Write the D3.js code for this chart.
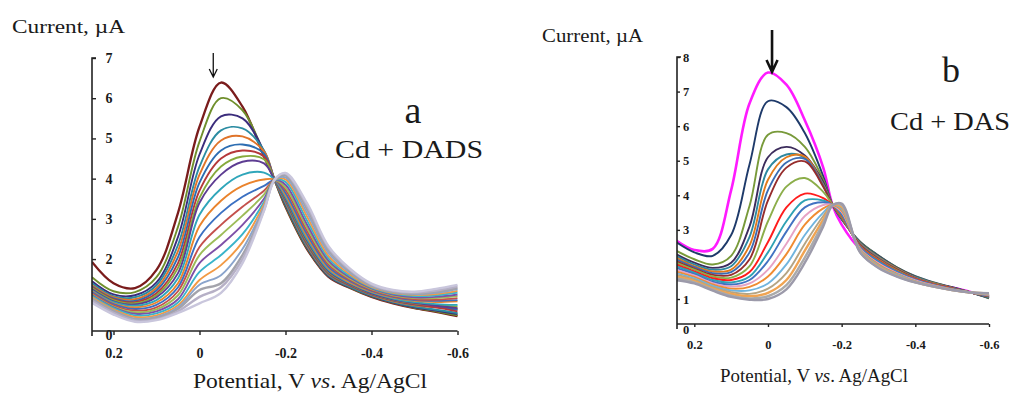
<!DOCTYPE html>
<html><head><meta charset="utf-8">
<script src="https://cdn.jsdelivr.net/npm/d3@7"></script>
<style>
html,body{margin:0;padding:0;background:#fff;}
svg{display:block;}
text{font-family:"Liberation Serif","Times New Roman",serif;fill:#1a1a1a;}
</style></head>
<body>
<svg id="chart" width="1016" height="394"></svg>
<script>
// ---------- DATA ----------
// Potential (V vs. Ag/AgCl) sampling grid shared by all curves
const potentials = [0.25, 0.2, 0.15, 0.1, 0.05, 0, -0.05, -0.1, -0.15, -0.175, -0.2, -0.25, -0.3, -0.35, -0.4, -0.45, -0.5, -0.55, -0.6];

// Panel a: Cd + DADS, current (µA), one row per scan, top peak first
const currentsDADS = [
  [1.93,1.40,1.28,1.73,3.15,5.29,6.39,5.79,4.55,3.95,3.30,2.25,1.56,1.28,1.06,0.90,0.78,0.69,0.58],
  [1.55,1.20,1.18,1.55,2.80,4.92,6.00,5.70,4.62,3.95,3.32,2.27,1.57,1.29,1.07,0.91,0.79,0.70,0.60],
  [1.45,1.12,1.10,1.42,2.55,4.60,5.55,5.50,4.68,3.96,3.35,2.29,1.58,1.30,1.08,0.92,0.80,0.72,0.63],
  [1.40,1.08,1.05,1.35,2.35,4.30,5.20,5.25,4.70,3.96,3.38,2.31,1.60,1.31,1.09,0.93,0.82,0.74,0.66],
  [1.35,1.05,1.00,1.28,2.20,4.10,4.95,5.05,4.68,3.97,3.42,2.34,1.62,1.33,1.11,0.95,0.85,0.80,0.76],
  [1.32,1.02,0.96,1.22,2.05,3.90,4.70,4.85,4.62,3.97,3.45,2.37,1.64,1.34,1.12,0.97,0.87,0.81,0.74],
  [1.30,1.00,0.93,1.15,1.90,3.70,4.50,4.70,4.55,3.97,3.48,2.40,1.66,1.35,1.13,0.98,0.88,0.80,0.70],
  [1.28,0.98,0.90,1.10,1.78,3.52,4.30,4.55,4.48,3.97,3.50,2.43,1.68,1.37,1.14,0.99,0.90,0.85,0.82],
  [1.25,0.95,0.87,1.05,1.65,3.40,4.10,4.42,4.38,3.97,3.52,2.46,1.70,1.38,1.15,1.00,0.91,0.84,0.78],
  [1.22,0.93,0.84,0.98,1.52,3.10,3.75,4.10,4.15,3.97,3.55,2.50,1.73,1.40,1.17,1.02,0.93,0.88,0.86],
  [1.20,0.90,0.80,0.92,1.40,2.82,3.45,3.82,3.98,3.97,3.60,2.56,1.77,1.42,1.19,1.04,0.96,0.93,0.95],
  [1.18,0.88,0.76,0.86,1.30,2.55,3.15,3.55,3.82,3.96,3.65,2.62,1.81,1.45,1.21,1.06,0.98,0.96,0.98],
  [1.15,0.85,0.72,0.80,1.20,2.30,2.85,3.30,3.70,3.96,3.72,2.70,1.86,1.48,1.23,1.08,1.00,0.99,1.03],
  [1.12,0.82,0.68,0.75,1.10,2.10,2.60,3.08,3.60,3.96,3.78,2.78,1.91,1.51,1.25,1.10,1.03,1.03,1.08],
  [1.10,0.80,0.64,0.70,1.00,1.90,2.35,2.85,3.50,3.96,3.85,2.86,1.96,1.54,1.27,1.12,1.05,1.06,1.12],
  [1.08,0.78,0.60,0.65,0.92,1.68,2.10,2.62,3.42,3.96,3.92,2.96,2.02,1.58,1.29,1.14,1.08,1.10,1.17],
  [1.05,0.75,0.56,0.60,0.85,1.48,1.85,2.42,3.36,3.97,3.98,3.06,2.08,1.62,1.31,1.16,1.11,1.13,1.21],
  [1.02,0.72,0.52,0.56,0.80,1.36,1.60,2.25,3.30,3.97,4.03,3.15,2.15,1.66,1.33,1.18,1.13,1.16,1.25],
  [1.00,0.70,0.50,0.54,0.76,1.23,1.40,2.10,3.25,3.98,4.08,3.25,2.22,1.70,1.35,1.19,1.15,1.19,1.28],
  [0.96,0.66,0.47,0.50,0.70,1.06,1.30,2.00,3.22,3.98,4.12,3.33,2.28,1.73,1.37,1.21,1.17,1.22,1.32],
  [0.91,0.62,0.44,0.48,0.66,0.90,1.16,1.90,3.20,3.98,4.14,3.39,2.32,1.76,1.39,1.23,1.19,1.26,1.36]
];

// Panel b: Cd + DAS, current (µA), one row per scan, top peak first
const currentsDAS = [
  [2.70,2.42,2.45,4.15,6.66,7.55,7.20,6.17,4.80,3.72,3.15,2.45,2.12,1.86,1.62,1.45,1.33,1.20,1.05],
  [2.65,2.35,2.25,2.85,4.90,6.72,6.55,5.80,4.55,3.73,3.30,2.66,2.26,1.92,1.66,1.48,1.34,1.19,1.02],
  [2.40,2.15,2.00,2.25,3.70,5.75,5.80,5.40,4.45,3.73,3.32,2.65,2.25,1.91,1.65,1.47,1.33,1.19,1.03],
  [2.30,2.05,1.90,2.05,3.10,5.10,5.40,5.15,4.38,3.73,3.33,2.64,2.24,1.90,1.64,1.46,1.33,1.19,1.04],
  [2.25,2.00,1.85,1.95,2.80,4.75,5.18,5.08,4.32,3.73,3.34,2.62,2.22,1.89,1.63,1.46,1.32,1.19,1.05],
  [2.20,1.95,1.80,1.85,2.55,4.45,5.10,5.12,4.30,3.73,3.35,2.60,2.20,1.88,1.62,1.45,1.32,1.19,1.07],
  [2.15,1.92,1.75,1.78,2.35,4.15,4.95,5.05,4.28,3.73,3.36,2.58,2.18,1.86,1.61,1.44,1.31,1.19,1.08],
  [2.10,1.88,1.70,1.70,2.15,3.85,4.80,4.98,4.25,3.73,3.37,2.56,2.16,1.85,1.60,1.43,1.31,1.19,1.08],
  [2.05,1.85,1.65,1.62,1.95,3.25,4.25,4.50,4.10,3.73,3.38,2.54,2.14,1.83,1.59,1.43,1.30,1.19,1.09],
  [2.00,1.80,1.60,1.55,1.78,2.65,3.65,4.05,3.92,3.72,3.42,2.52,2.12,1.81,1.58,1.42,1.30,1.19,1.10],
  [1.95,1.76,1.55,1.48,1.65,2.35,3.25,3.85,3.85,3.72,3.45,2.50,2.09,1.79,1.56,1.41,1.29,1.19,1.10],
  [1.90,1.72,1.50,1.42,1.55,2.10,2.95,3.65,3.80,3.72,3.48,2.48,2.06,1.77,1.55,1.40,1.29,1.19,1.11],
  [1.85,1.68,1.46,1.36,1.45,1.85,2.60,3.40,3.72,3.72,3.52,2.46,2.03,1.75,1.54,1.39,1.28,1.19,1.12],
  [1.80,1.64,1.42,1.30,1.35,1.65,2.30,3.15,3.62,3.72,3.56,2.44,2.00,1.73,1.52,1.38,1.28,1.19,1.13],
  [1.75,1.60,1.38,1.25,1.25,1.45,2.00,2.85,3.50,3.72,3.60,2.42,1.97,1.71,1.51,1.37,1.27,1.19,1.14],
  [1.70,1.56,1.34,1.20,1.15,1.30,1.75,2.60,3.40,3.72,3.64,2.40,1.95,1.69,1.50,1.37,1.27,1.19,1.15],
  [1.65,1.52,1.30,1.15,1.08,1.18,1.55,2.40,3.30,3.72,3.68,2.38,1.93,1.67,1.49,1.36,1.26,1.19,1.16],
  [1.60,1.48,1.27,1.10,1.02,1.08,1.40,2.20,3.20,3.72,3.72,2.36,1.91,1.66,1.48,1.36,1.26,1.19,1.16],
  [1.55,1.45,1.24,1.06,0.98,1.00,1.28,2.05,3.10,3.70,3.76,2.35,1.90,1.65,1.48,1.36,1.26,1.19,1.17]
];

// tick values / labels
const xTickValues = [0.2, 0, -0.2, -0.4, -0.6];
const yTicksA = [0, 1, 2, 3, 4, 5, 6, 7];
const yTicksB = [0, 1, 2, 3, 4, 5, 6, 7, 8];
const yLabel = "Current, µA";
const labelA = "a", systemA = "Cd + DADS";
const labelB = "b", systemB = "Cd + DAS";

// ---------- STYLES ----------
const colorsA = ["#7a1c1c","#6f8f2c","#3b2c7c","#2b8ca2","#e0742a","#2c6db2","#b5383a","#86aa3c","#5d3c92",
  "#2fa6ba","#ea832c","#3b70c2","#c4504c","#9cbc58","#7e50a8","#3ab4ca","#f29a45","#8aa4cc","#a3a3ab","#b6b0c6","#c9c6dc"];
const colorsB = ["#ff1aff","#1e3a6a","#789a3a","#3c2c5c","#2e88a0","#e27a1c","#3a6cb4","#962c2c","#8cae4a",
  "#ff1c1c","#2ea2b4","#4272c2","#e6a2c4","#f08c32","#70b4de","#b4a484","#f0a452","#aaaaaa","#9c9aaa"];

const svg = d3.select("#chart");

function panel(cfg){
  const g = svg.append("g");
  const x = d3.scaleLinear().domain(cfg.xDomain).range(cfg.xRange);
  const y = d3.scaleLinear().domain(cfg.yDomain).range(cfg.yRange);
  const axisY = cfg.axisY;   // pixel of x-axis line
  const left = cfg.xRange[0];

  // y axis ticks + labels (under the curves)
  const ya = d3.axisRight(y).tickValues(cfg.yTicks).tickSize(cfg.tickLen).tickSizeOuter(0)
      .tickPadding(cfg.yPad).tickFormat(d3.format("d"));
  const yg = g.append("g").attr("transform", `translate(${left},0)`).call(ya);
  yg.select(".domain").remove();
  yg.selectAll(".tick line").attr("stroke","#222").attr("stroke-width",1.4);
  yg.selectAll(".tick").filter(d => d === 0).select("line").remove();
  yg.selectAll(".tick text").attr("font-family","Liberation Serif, serif")
     .attr("font-size",cfg.tickFont).attr("font-weight","bold").attr("fill","#333")
     .attr("text-anchor","middle").attr("x", cfg.yLabX);
  yg.selectAll(".tick").filter(d => d === 0).select("text").attr("y", cfg.zeroShift);

  // x axis ticks + labels
  const xa = d3.axisBottom(x).tickValues(xTickValues).tickSize(cfg.tickLen).tickSizeOuter(0)
      .tickPadding(cfg.xPad).tickFormat(d => String(d));
  const xg = g.append("g").attr("transform", `translate(0,${axisY})`).call(xa);
  xg.select(".domain").remove();
  xg.selectAll(".tick line").attr("stroke","#222").attr("stroke-width",1.4);
  xg.selectAll(".tick text").attr("font-family","Liberation Serif, serif")
     .attr("font-size",cfg.tickFont).attr("font-weight","bold").attr("fill","#333");

  // curves (later scans drawn on top)
  const clipId = "clip" + cfg.id;
  svg.append("clipPath").attr("id", clipId).append("rect")
     .attr("x", left).attr("y", 0).attr("width", cfg.xRange[1]-left+2).attr("height", axisY);
  const line = d3.line().x((d,i) => x(potentials[i])).y(d => y(d)).curve(d3.curveCatmullRom.alpha(0.5));
  const cg = g.append("g").attr("clip-path", `url(#${clipId})`);
  cg.selectAll("path").data(cfg.data).join("path")
    .attr("d", d => line(d)).attr("fill","none")
    .attr("stroke", (d,i) => cfg.colors[i])
    .attr("stroke-width", (d,i) => i >= cfg.data.length-3 ? cfg.lw+0.5 : (i===0 ? cfg.lw0 : cfg.lw))
    .attr("stroke-linejoin","round");

  // axis lines
  g.append("path").attr("d",
      `M${left+4},${cfg.yRange[1]}H${left}V${axisY+5}M${left},${axisY}H${cfg.xRange[1]}`)
    .attr("fill","none").attr("stroke","#222").attr("stroke-width",1.6);

  // arrow
  const ax = x(cfg.arrowV);
  g.append("path").attr("d", `M${ax},${cfg.arrowTop}V${cfg.arrowTip-1}M${ax-cfg.ahw},${cfg.arrowTip-cfg.ahh}L${ax},${cfg.arrowTip}L${ax+cfg.ahw},${cfg.arrowTip-cfg.ahh}`)
    .attr("fill","none").attr("stroke","#111").attr("stroke-width",cfg.arrowW).attr("stroke-linejoin","miter");

  // texts
  g.append("text").attr("x",cfg.yTitle[0]).attr("y",cfg.yTitle[1]).attr("font-size",cfg.yTitle[2])
    .attr("textLength",cfg.yTitle[3]).attr("lengthAdjust","spacingAndGlyphs").text(yLabel);
  const xt = g.append("text").attr("x",cfg.xTitle[0]).attr("y",cfg.xTitle[1]).attr("font-size",cfg.xTitle[2])
    .attr("textLength",cfg.xTitle[3]).attr("lengthAdjust","spacingAndGlyphs");
  xt.append("tspan").text("Potential, V ");
  xt.append("tspan").attr("font-style","italic").text("vs");
  xt.append("tspan").text(". Ag/AgCl");
  g.append("text").attr("x",cfg.letter[0]).attr("y",cfg.letter[1]).attr("font-size",cfg.letter[2])
    .attr("text-anchor","middle").text(cfg.letterText);
  g.append("text").attr("x",cfg.sys[0]).attr("y",cfg.sys[1]).attr("font-size",cfg.sys[2])
    .attr("textLength",cfg.sys[3]).attr("lengthAdjust","spacingAndGlyphs").text(cfg.sysText);
}

panel({
  id:"A", data: currentsDADS, colors: colorsA,
  xDomain:[0.25,-0.6], xRange:[92,457.5], yDomain:[0,7], yRange:[339.5,58], axisY:331,
  yTicks:yTicksA, tickLen:4, yPad:8, yLabX:17, zeroShift:-4, xPad:13, tickFont:14, lw:1.9, lw0:2.3,
  arrowV:-0.032, arrowTop:53, arrowTip:77, ahw:4, ahh:8, arrowW:1.3,
  yTitle:[12,33,19,113], xTitle:[193,388,21,234],
  letter:[413,123,38], letterText: labelA,
  sys:[335,158,25,148], sysText: systemA
});

panel({
  id:"B", data: currentsDAS, colors: colorsB,
  xDomain:[0.247,-0.6], xRange:[677,989], yDomain:[0,8], yRange:[333.6,57], axisY:324,
  yTicks:yTicksB, tickLen:3, yPad:4, yLabX:9, zeroShift:-4, xPad:13, tickFont:12.5, lw:1.9, lw0:2.6,
  arrowV:-0.011, arrowTop:30, arrowTip:72, ahw:5.5, ahh:12, arrowW:2.6,
  yTitle:[542,42,18,101], xTitle:[720,382,18,188],
  letter:[951,82,36], letterText: labelB,
  sys:[890,130,25,120], sysText: systemB
});
</script>
</body></html>
